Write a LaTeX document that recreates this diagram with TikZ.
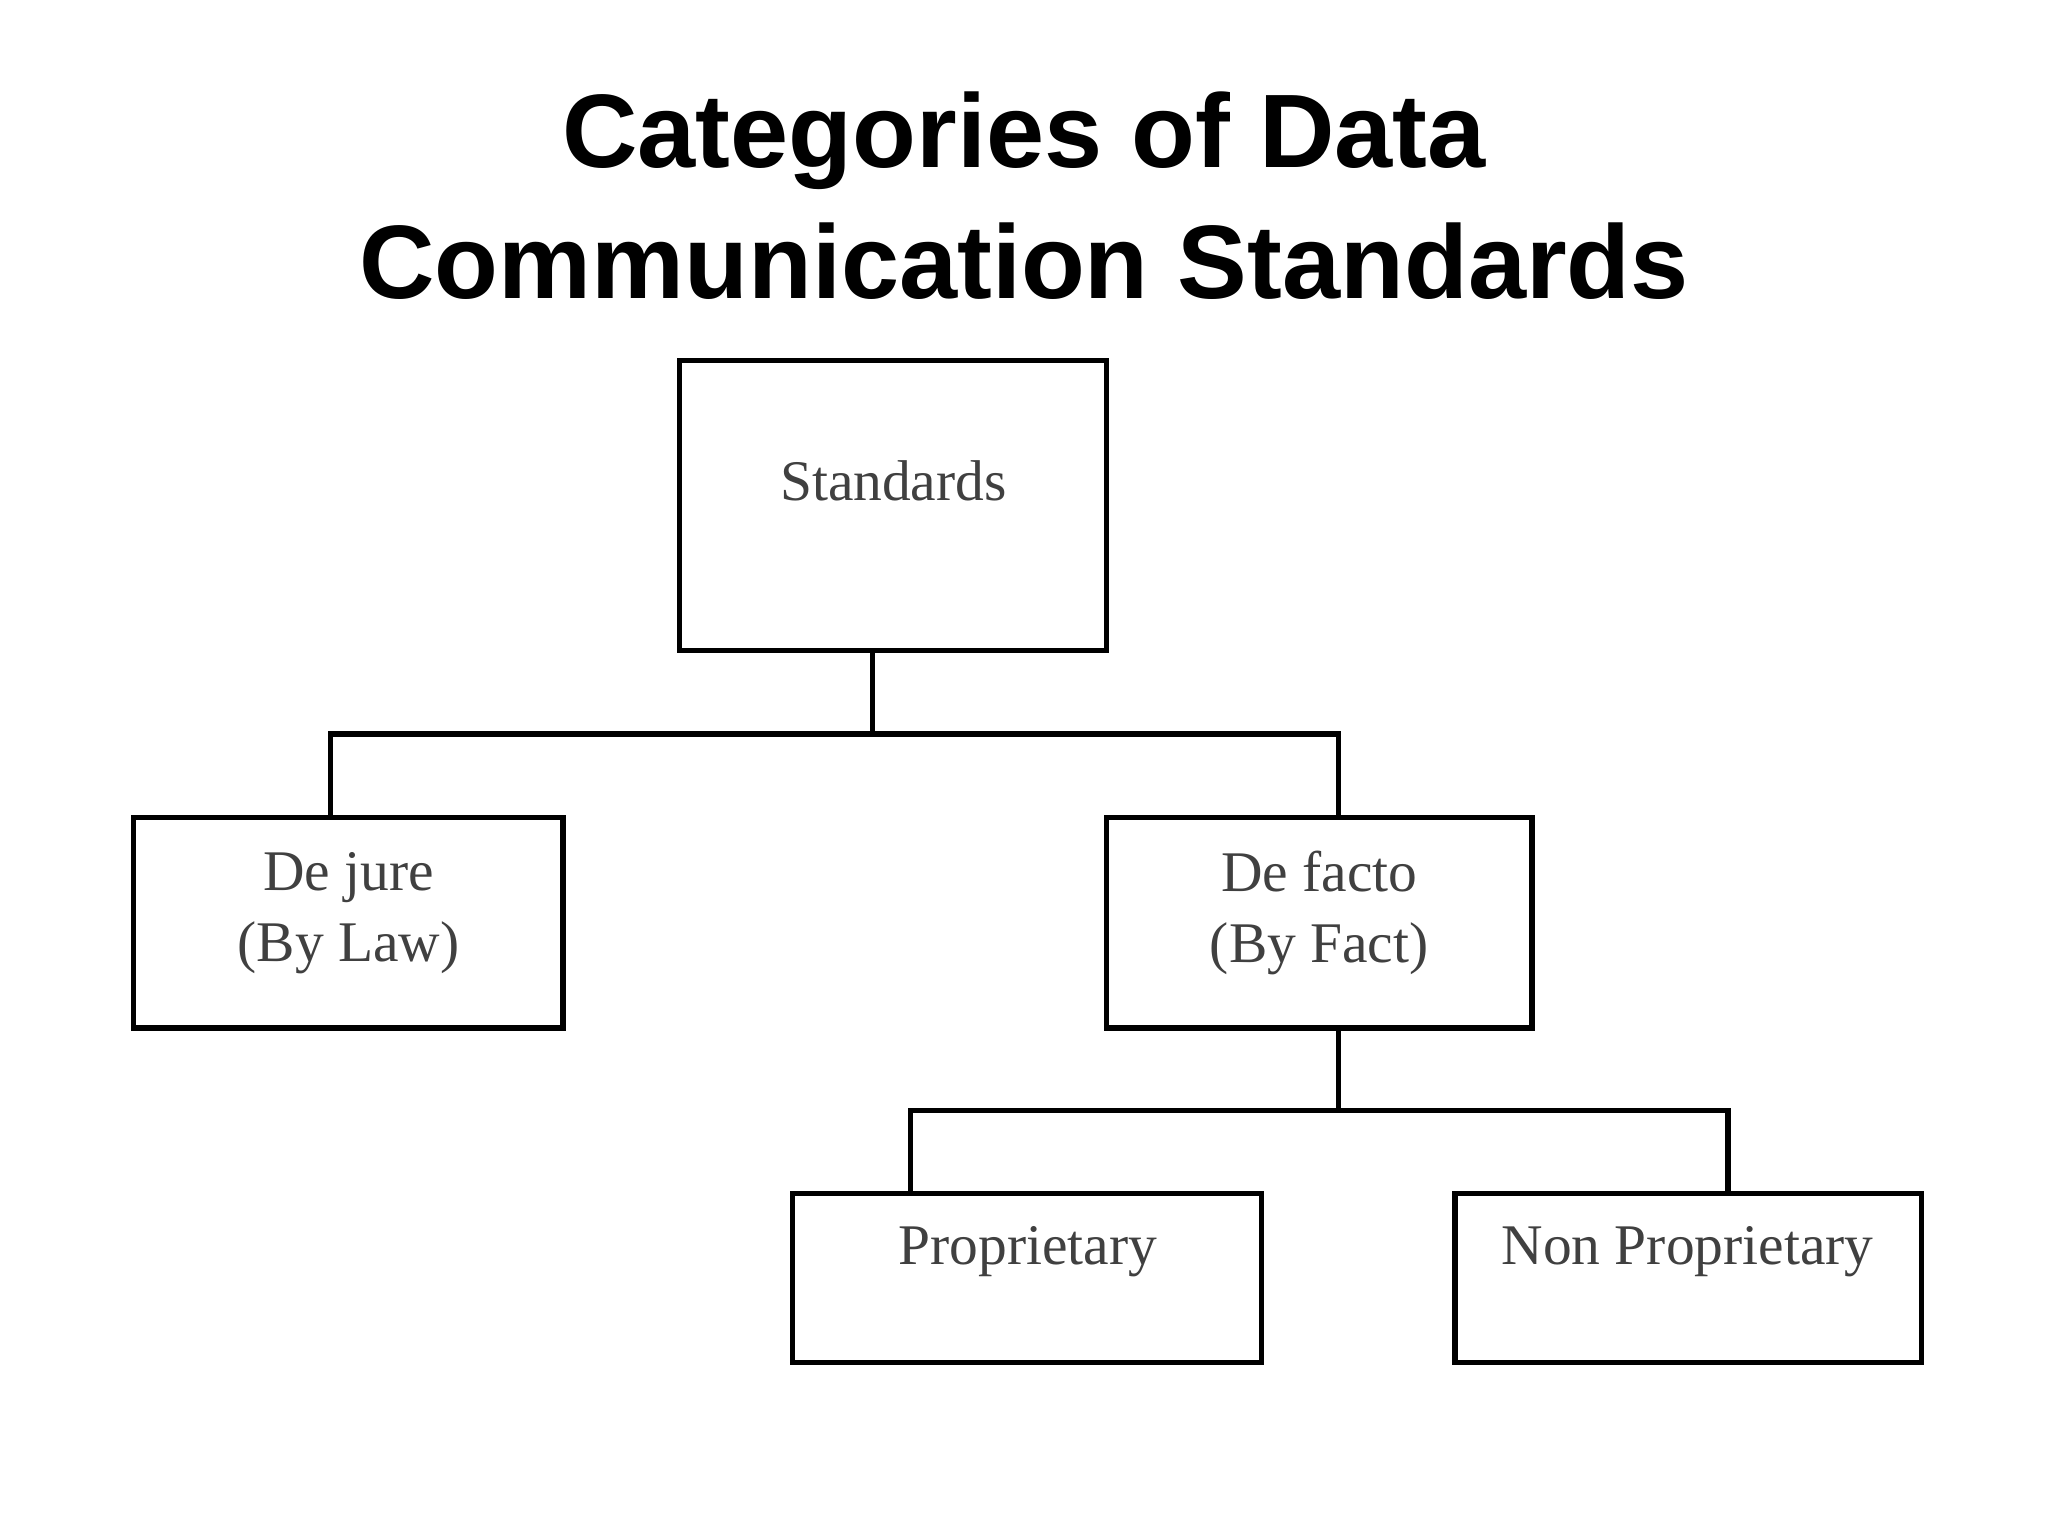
\documentclass[tikz,border=0pt]{standalone}
\usepackage{fontspec}
\setmainfont{Liberation Serif}
\newfontfamily\titlefont{Liberation Sans}
\begin{document}
\begin{tikzpicture}[x=0.5pt,y=-0.5pt,
  box/.style={draw,line width=2pt},
  lbl/.style={font=\fontsize{22}{27}\selectfont,text=black!75,align=center},
  conn/.style={line width=2pt}]
\useasboundingbox (0,0) rectangle (1568,1176);
\node[font=\titlefont\bfseries\fontsize{40}{50}\selectfont,align=center] (title) at (784,150) {Categories of Data\\Communication Standards};
\draw[box] (520,276) rectangle (847,498);
\coordinate (sb) at (668,498);
\node[lbl] (std) at (684,368) {Standards};
\draw[box] (102,626) rectangle (431,787);
\coordinate (djt) at (253,626);
\node[lbl] (dj) at (267,699) {De jure\\(By Law)};
\draw[box] (847,626) rectangle (1173,787);
\coordinate (dft) at (1025,626);
\coordinate (dfb) at (1025,787);
\node[lbl] (df) at (1010,699) {De facto\\(By Fact)};
\draw[box] (607,914) rectangle (966,1043);
\coordinate (pt) at (697,914);
\node[lbl] (p) at (787,958) {Proprietary};
\draw[box] (1114,914) rectangle (1471,1043);
\coordinate (npt) at (1323,914);
\node[lbl] (np) at (1292,958) {Non Proprietary};
\draw[conn] (sb) -- (668,562);
\draw[conn] (djt) |- (668,562) -| (dft);
\draw[conn] (dfb) -- (1025,850);
\draw[conn] (pt) |- (1025,850) -| (npt);
\end{tikzpicture}
\end{document}
